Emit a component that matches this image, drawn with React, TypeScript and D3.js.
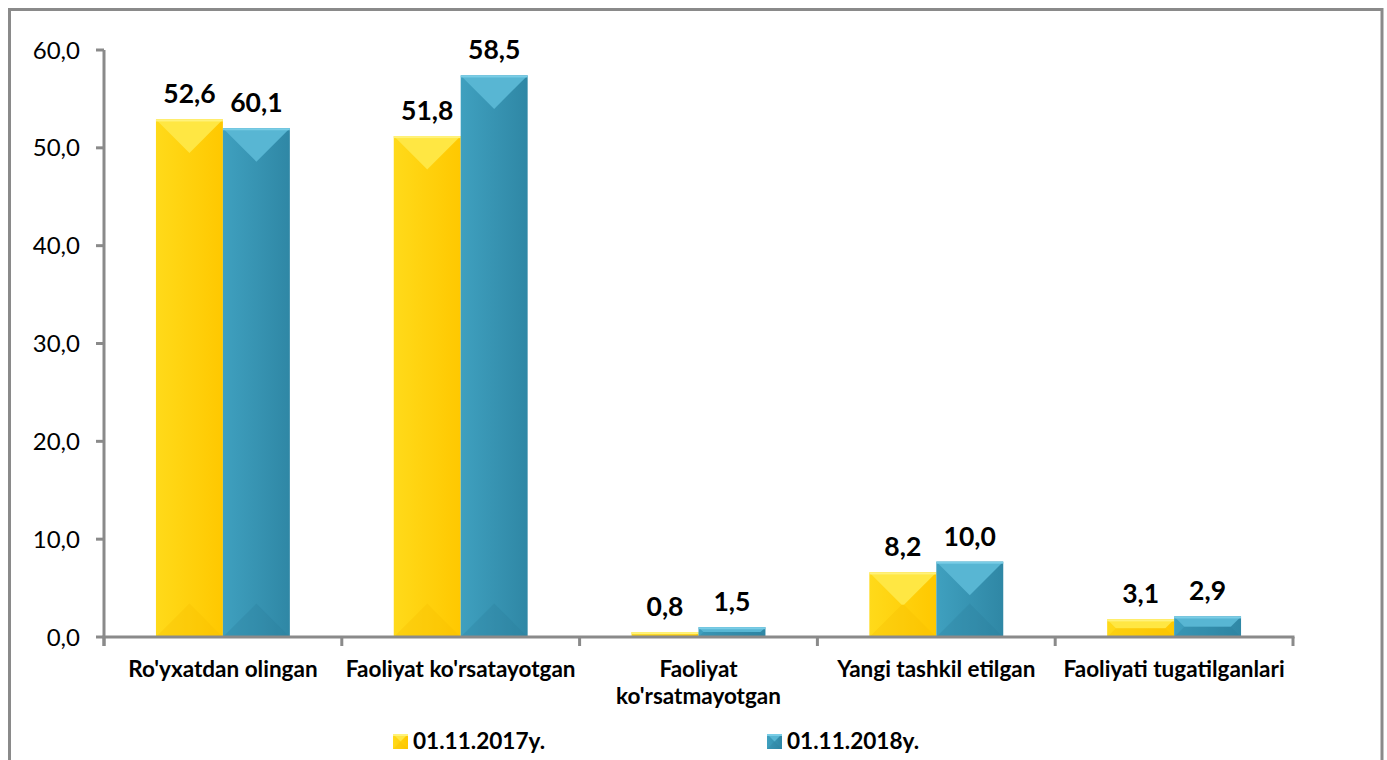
import React from "react";
import * as d3 from "d3";

const categories = [
  "Ro'yxatdan olingan",
  "Faoliyat ko'rsatayotgan",
  "Faoliyat\nko'rsatmayotgan",
  "Yangi tashkil etilgan",
  "Faoliyati tugatilganlari",
];
const seriesNames = ["01.11.2017y.", "01.11.2018y."];
// bar heights as drawn in the picture
const bars2017 = [52.9, 51.2, 0.5, 6.6, 1.8];
const bars2018 = [52.0, 57.4, 1.0, 7.7, 2.1];
// data labels as printed
const labels2017 = ["52,6", "51,8", "0,8", "8,2", "3,1"];
const labels2018 = ["60,1", "58,5", "1,5", "10,0", "2,9"];
const yTicks = [0, 10, 20, 30, 40, 50, 60];

const W = 1387;
const H = 760;
const FONT = "Lato, 'Open Sans', sans-serif";
const AXIS = "#8a8a8a";

const palettes = [
  { left: "#FFDA1A", right: "#FFC800", top: "#FFE743", topEdge: "#FFF27A", bottom: "#F6BE00" },
  { left: "#3FA0BF", right: "#2F87A5", top: "#58B6D3", topEdge: "#7ACDE6", bottom: "#2B7E9B" },
];

function Bar({ x0, x1, t, b, pal, id }: any) {
  const w = x1 - x0;
  const h = b - t;
  const d = Math.min(w / 2, h / 2);
  const pts = (arr: number[][]) => arr.map((p) => p.join(",")).join(" ");
  return (
    <g>
      <rect x={x0} y={t} width={w} height={h} fill={`url(#${id})`} />
      <polygon points={pts([[x0, t], [x1, t], [x1 - d, t + d], [x0 + d, t + d]])} fill={pal.top} />
      <polygon points={pts([[x0, b], [x1, b], [x1 - d, b - d], [x0 + d, b - d]])} fill={pal.bottom} opacity={0.3} />
      <rect x={x0} y={t} width={w} height={Math.min(2, h)} fill={pal.topEdge} />
    </g>
  );
}

export default function App() {
  const x = d3.scaleBand<string>().domain(categories).range([104, 1293]).paddingInner(0).paddingOuter(0);
  const inner = d3.scaleBand<string>().domain(["0", "1"]).range([0, x.bandwidth()]).paddingInner(0).paddingOuter(0.776);
  const y = d3.scaleLinear().domain([0, 60]).range([637, 50]);
  const fmt = (v: number) => d3.format(".1f")(v).replace(".", ",");
  const series = [
    { vals: bars2017, labels: labels2017 },
    { vals: bars2018, labels: labels2018 },
  ];
  const tickPositions = [...categories.map((c) => x(c)!), 1293];

  return (
    <svg width={W} height={H} style={{ position: "absolute", left: 0, top: 0, background: "#fff" }}>
      <defs>
        {palettes.map((p, i) => (
          <linearGradient key={i} id={`g${i}`} x1="0" x2="1" y1="0" y2="0">
            <stop offset="0" stopColor={p.left} />
            <stop offset="1" stopColor={p.right} />
          </linearGradient>
        ))}
      </defs>
      <rect x={0} y={0} width={W} height={H} fill="#fff" />
      {/* outer frame */}
      <path d={`M9.5,${H + 10} L9.5,9.5 L1382,9.5 L1382,${H + 10}`} fill="none" stroke={AXIS} strokeWidth={3} />

      {/* y axis */}
      <line x1={104} x2={104} y1={y(60)} y2={y(0) + 9} stroke={AXIS} strokeWidth={3} />
      {yTicks.map((t) => (
        <g key={t}>
          <line x1={96} x2={104} y1={y(t)} y2={y(t)} stroke={AXIS} strokeWidth={3} />
          <text x={80} y={y(t)} dy="0.36em" textAnchor="end" fontFamily={FONT} fontSize={24} fill="#000">
            {fmt(t)}
          </text>
        </g>
      ))}

      {/* bars */}
      {categories.map((c, ci) =>
        series.map((s, si) => {
          const x0 = x(c)! + inner(String(si))!;
          const x1 = x0 + inner.bandwidth();
          const t = y(s.vals[ci]);
          return (
            <g key={`${ci}-${si}`}>
              <Bar x0={x0} x1={x1} t={t} b={y(0)} pal={palettes[si]} id={`g${si}`} />
              <text
                x={(x0 + x1) / 2}
                y={t - 16}
                textAnchor="middle"
                fontFamily={FONT}
                fontWeight={700}
                fontSize={26.5}
                fill="#000"
              >
                {s.labels[ci]}
              </text>
            </g>
          );
        })
      )}

      {/* x axis */}
      <line x1={102.5} x2={1294.5} y1={y(0)} y2={y(0)} stroke={AXIS} strokeWidth={3} />
      {tickPositions.map((p, i) => (
        <line key={i} x1={p} x2={p} y1={y(0)} y2={y(0) + 9} stroke={AXIS} strokeWidth={3} />
      ))}
      {categories.map((c) => (
        <text
          key={c}
          x={x(c)! + x.bandwidth() / 2}
          y={677}
          textAnchor="middle"
          fontFamily={FONT}
          fontWeight={700}
          fontSize={22.5}
          fill="#000"
        >
          {c.split("\n").map((ln, li) => (
            <tspan key={li} x={x(c)! + x.bandwidth() / 2} dy={li === 0 ? 0 : 27}>
              {ln}
            </tspan>
          ))}
        </text>
      ))}

      {/* legend */}
      {seriesNames.map((n, i) => {
        const lx = i === 0 ? 393 : 767;
        return (
          <g key={n}>
            <Bar x0={lx} x1={lx + 15} t={734} b={749} pal={palettes[i]} id={`g${i}`} />
            <text x={lx + 20} y={749} fontFamily={FONT} fontWeight={700} fontSize={22.6} fill="#000">
              {n}
            </text>
          </g>
        );
      })}
    </svg>
  );
}
